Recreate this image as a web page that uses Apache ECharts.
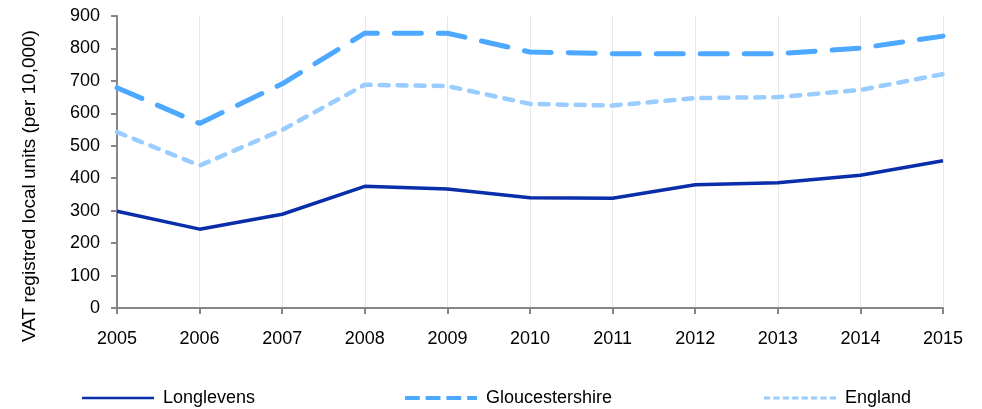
<!DOCTYPE html>
<html><head><meta charset="utf-8">
<script src="https://cdn.jsdelivr.net/npm/echarts@6/dist/echarts.min.js"></script>
<style>html,body{margin:0;padding:0;background:#fff}#c{width:982px;height:409px}</style>
</head><body><div id="c"></div>
<script>
const years = ['2005','2006','2007','2008','2009','2010','2011','2012','2013','2014','2015'];
const longlevens = [298,243,289,375,367,340,338,380,386,409,454];
const gloucestershire = [679,569,691,847,847,789,784,784,784,801,838];
const england = [542,439,549,688,684,629,624,647,650,672,721];
const yTicks = {min:0, max:900, interval:100};
const yTitle = 'VAT registred local units (per 10,000)';

const font = 'Liberation Sans, Arial, sans-serif';
const cL = '#0A2DAA', cG = '#4DA8FF', cE = '#99CCFF';
const chart = echarts.init(document.getElementById('c'));
const legendBase = {top: 389, padding:0, itemWidth: 72, selectedMode:false,
  textStyle:{fontFamily:font, fontSize:18, color:'#000', padding:[0,0,0,4]}};
const dashPath = 'path://M0,0h15v4h-15z M21,0h15v4h-15z M42,0h15v4h-15z M63,0h10v4h-10z';
let dotPath = 'path://';
for (let i = 0; i < 8; i++) dotPath += 'M' + (i*9) + ',0h6v3h-6z ';
chart.setOption({
  animation:false,
  grid:{left:117, right:39, top:16, bottom:101},
  graphic:[{type:'text', x:30, y:186, rotation:Math.PI/2,
    style:{text:yTitle, fill:'#000', font:'19px ' + font, align:'center', verticalAlign:'middle'}}],
  xAxis:{type:'category', data:years, boundaryGap:false,
    axisLine:{lineStyle:{color:'#868686', width:2}},
    axisTick:{show:true, length:6, lineStyle:{color:'#868686', width:2}},
    axisLabel:{color:'#000', fontFamily:font, fontSize:18, margin:22},
    splitLine:{show:true, lineStyle:{color:'#e8e8e8', width:1}}},
  yAxis:{type:'value', min:yTicks.min, max:yTicks.max, interval:yTicks.interval,
    axisLine:{show:true, lineStyle:{color:'#868686', width:2}},
    axisTick:{show:true, length:6, lineStyle:{color:'#868686', width:2}},
    axisLabel:{color:'#000', fontFamily:font, fontSize:18, margin:17},
    splitLine:{show:false}},
  legend:[
    Object.assign({}, legendBase, {data:['Longlevens'], left:82, itemHeight:2.5, icon:'path://M0,0h72v2.5h-72z'}),
    Object.assign({}, legendBase, {data:['Gloucestershire'], left:405, itemHeight:4.5, icon:dashPath}),
    Object.assign({}, legendBase, {data:['England'], left:764, itemHeight:3.5, icon:dotPath})
  ],
  series:[
    {name:'Longlevens', type:'line', data:longlevens, symbol:'none', z:3,
     lineStyle:{color:cL, width:3.5}, itemStyle:{color:cL}},
    {name:'Gloucestershire', type:'line', data:gloucestershire, symbol:'none', z:2,
     lineStyle:{color:cG, width:5, type:[27,17], cap:'round'}, itemStyle:{color:cG}},
    {name:'England', type:'line', data:england, symbol:'none', z:1,
     lineStyle:{color:cE, width:4.5, type:[9,9], cap:'round'}, itemStyle:{color:cE}}
  ]
});
</script></body></html>
